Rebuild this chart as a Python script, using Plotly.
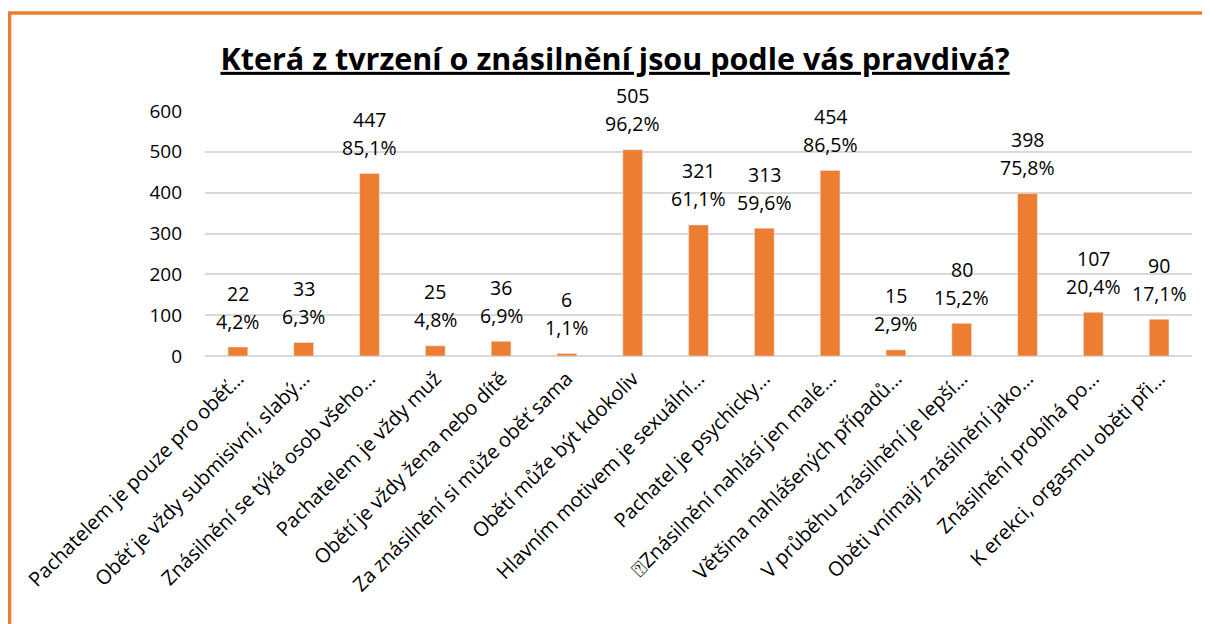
import plotly.graph_objects as go

categories = [
    "Pachatelem je pouze pro oběť…",
    "Oběť je vždy submisivní, slabý…",
    "Znásilnění se týká osob všeho…",
    "Pachatelem je vždy muž",
    "Obětí je vždy žena nebo dítě",
    "Za znásilnění si může oběť sama",
    "Obětí může být kdokoliv",
    "Hlavním motivem je sexuální…",
    "Pachatel je psychicky…",
    "\u2370Znásilnění nahlásí jen malé…",
    "Většina nahlášených případů…",
    "V průběhu znásilnění je lepší…",
    "Oběti vnímají znásilnění jako…",
    "Znásilnění probíhá po…",
    "K erekci, orgasmu oběti při…",
]
counts = [22, 33, 447, 25, 36, 6, 505, 321, 313, 454, 15, 80, 398, 107, 90]
percents = ["4,2%", "6,3%", "85,1%", "4,8%", "6,9%", "1,1%", "96,2%", "61,1%",
            "59,6%", "86,5%", "2,9%", "15,2%", "75,8%", "20,4%", "17,1%"]
y_ticks = [0, 100, 200, 300, 400, 500, 600]

ORANGE = "#ED7D31"
FONT = "Open Sans"

fig = go.Figure()
fig.add_trace(go.Bar(
    x=categories, y=counts, marker_color=ORANGE, width=0.3,
    hoverinfo="skip",
))

for c, v, p in zip(categories, counts, percents):
    fig.add_annotation(
        x=c, y=v, xref="x", yref="y", text=p,
        showarrow=False, yanchor="middle", yshift=26,
        font=dict(family=FONT, size=19.5, color="#000000"),
    )
    fig.add_annotation(
        x=c, y=v, xref="x", yref="y", text=str(v),
        showarrow=False, yanchor="middle", yshift=54,
        font=dict(family=FONT, size=19.5, color="#000000"),
    )

# orange frame (cropped rectangle: left and top edges)
fig.add_shape(type="path", xref="paper", yref="paper",
              path="M -0.198 -1.3 L -0.198 1.4 L 1.1 1.4",
              line=dict(color=ORANGE, width=3.5))

fig.update_layout(
    width=1210, height=624,
    margin=dict(l=197, r=26, t=103, b=276),
    paper_bgcolor="white", plot_bgcolor="white",
    showlegend=False,
    title=dict(
        text="<u><b>Která z tvrzení o znásilnění jsou podle vás pravdivá?</b></u>",
        x=0.5017, xanchor="center", y=0.918, yanchor="middle",
        xref="container", yref="container",
        font=dict(family=FONT, size=30.5, color="#000000"),
    ),
    font=dict(family=FONT, color="#000000"),
)
fig.update_xaxes(
    tickangle=-45, tickfont=dict(family=FONT, size=20, color="#000000"),
    showgrid=False, showline=False, ticks="", ticklabelstandoff=6,
)
fig.update_yaxes(
    range=[0, 600], tickvals=y_ticks, ticktext=[str(t) for t in y_ticks],
    showgrid=True, gridcolor="#D9D9D9", gridwidth=1.6,
    zeroline=True, zerolinecolor="#D9D9D9", zerolinewidth=1.6,
    tickfont=dict(family=FONT, size=19, color="#000000"),
    ticks="", ticklabelstandoff=22, showline=False,
)

fig.write_html("out.html")
